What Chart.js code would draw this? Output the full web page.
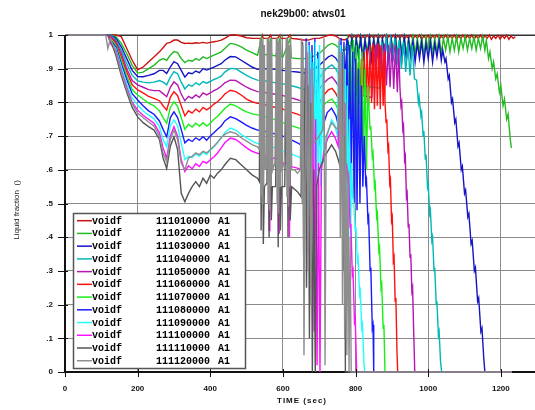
<!DOCTYPE html>
<html><head><meta charset="utf-8">
<script src="https://cdn.jsdelivr.net/npm/chart.js@4.4.1/dist/chart.umd.min.js"></script>
<style>html,body{margin:0;padding:0;background:#fff;overflow:hidden}#wrap{position:relative;width:535px;height:410px}</style>
</head><body><div id="wrap"><canvas id="c" width="535" height="410"></canvas></div>
<script>
const chartTitle = "nek29b00: atws01";
const xTitle = "TIME (sec)";
const yTitle = "Liquid fraction  ()";
const xTicks = [0, 200, 400, 600, 800, 1000, 1200];
const yTicks = [0, 0.1, 0.2, 0.3, 0.4, 0.5, 0.6, 0.7, 0.8, 0.9, 1];
const yTickLabels = ["0", ".1", ".2", ".3", ".4", ".5", ".6", ".7", ".8", ".9", "1"];
const legendVar = "voidf";
const legendIds = ["111010000","111020000","111030000","111040000","111050000","111060000","111070000","111080000","111090000","111100000","111110000","111120000"];
const legendSuffix = "A1";
const colors = ["#cc1111","#22bb22","#1414c4","#00b8b8","#b416b4","#ff1010","#18ee18","#1a1aff","#22ffff","#ff10ff","#555555","#8e8e8e"];

const tBase = [0,100,112,118,125,140,155,170,185,200,215,230,245,260,270,280,290,300,310,320,330,340,350,360,370,380,390,400,410,420,430,440,455,470,485,500,515,530];

const base01 = [1,1,1,1,1, 1,0.995,0.96,0.925,0.897, 0.905,0.92,0.935,0.95,0.962, 0.975,0.978,0.985,0.985,0.978, 0.975,0.976,0.975,0.977,0.976, 0.978,0.976,0.978,0.98,0.982, 0.985,0.99,1.0,1.0,0.997, 0.992,0.99,0.99];
const base02 = [1,1,1,1,1, 0.995,0.975,0.945,0.91,0.887, 0.89,0.9,0.91,0.925,0.93, 0.925,0.94,0.951,0.948,0.93, 0.918,0.925,0.922,0.93,0.925, 0.935,0.93,0.935,0.94,0.945, 0.95,0.96,0.975,0.972,0.965, 0.955,0.948,0.94];
const base03 = [1,1,1,1,1, 0.99,0.965,0.93,0.895,0.877, 0.876,0.88,0.885,0.895,0.895, 0.886,0.905,0.921,0.915,0.895, 0.875,0.888,0.885,0.893,0.888, 0.9,0.896,0.9,0.905,0.91, 0.915,0.925,0.936,0.935,0.925, 0.915,0.905,0.898];
const base04 = [1,1,1,1,1, 0.985,0.955,0.915,0.88,0.864, 0.86,0.858,0.86,0.865,0.86, 0.852,0.875,0.891,0.885,0.86, 0.84,0.852,0.848,0.858,0.852, 0.862,0.857,0.862,0.868,0.872, 0.878,0.89,0.901,0.9,0.89, 0.88,0.872,0.866];
const base05 = [1,1,1,1,0.998, 0.98,0.945,0.9,0.865,0.852, 0.845,0.838,0.835,0.835,0.826, 0.817,0.845,0.861,0.852,0.825, 0.805,0.818,0.812,0.822,0.815, 0.828,0.822,0.828,0.835,0.84, 0.848,0.858,0.866,0.865,0.855, 0.845,0.838,0.832];
const base06 = [1,1,1,1,0.995, 0.975,0.935,0.89,0.852,0.837, 0.828,0.818,0.812,0.805,0.79, 0.777,0.815,0.832,0.82,0.79, 0.76,0.775,0.768,0.78,0.772, 0.785,0.778,0.785,0.795,0.802, 0.812,0.825,0.836,0.832,0.822, 0.81,0.802,0.797];
const base07 = [1,1,1,1,0.99, 0.97,0.925,0.878,0.838,0.822, 0.81,0.798,0.79,0.775,0.755, 0.738,0.785,0.802,0.788,0.755, 0.72,0.735,0.727,0.738,0.73, 0.74,0.73,0.738,0.75,0.758, 0.77,0.782,0.795,0.79,0.78, 0.772,0.766,0.763];
const base08 = [1,1,1,1,0.985, 0.965,0.915,0.868,0.826,0.807, 0.79,0.775,0.765,0.745,0.72, 0.698,0.755,0.772,0.755,0.72, 0.68,0.69,0.684,0.695,0.688, 0.698,0.688,0.7,0.71,0.72, 0.73,0.745,0.757,0.752,0.742, 0.732,0.724,0.718];
const base09 = [1,1,1,1,0.98, 0.96,0.905,0.855,0.813,0.792, 0.775,0.762,0.752,0.728,0.69, 0.668,0.73,0.748,0.73,0.68, 0.63,0.64,0.636,0.648,0.64, 0.652,0.645,0.658,0.668,0.68, 0.695,0.71,0.724,0.718,0.705, 0.695,0.685,0.678];
const base10 = [1,1,1,1,0.975, 0.955,0.895,0.845,0.8,0.777, 0.762,0.75,0.738,0.71,0.665, 0.634,0.7,0.728,0.7,0.63, 0.595,0.612,0.603,0.618,0.61, 0.625,0.62,0.63,0.638,0.65, 0.665,0.68,0.694,0.69,0.678, 0.665,0.655,0.649];
const base11 = [1,1,1,1,0.985, 0.94,0.88,0.83,0.785,0.757, 0.74,0.728,0.718,0.69,0.635, 0.604,0.67,0.698,0.66,0.53, 0.505,0.53,0.55,0.565,0.55, 0.575,0.56,0.585,0.575,0.59, 0.6,0.615,0.634,0.63,0.615, 0.6,0.585,0.575];
const base12 = [1,1,1,0.96,0.99, 0.95,0.89,0.838,0.796,0.768, 0.755,0.742,0.73,0.7,0.65, 0.624,0.69,0.718,0.69,0.62, 0.6,0.635,0.64,0.65,0.645, 0.655,0.65,0.66,0.67,0.682, 0.695,0.705,0.713,0.708,0.695, 0.685,0.675,0.668];

const tail01 = [[540,0.99],[543,1.0],[546,0.99],[560,0.99],[566,1.0],[569,0.99],[585,0.99],[592,1.0],[595,0.99],[612,0.99],[620,1.0],[623,0.99],[640,0.988],[655,0.985],[670,0.985],[685,0.99],[700,0.99],[715,0.995],[725,0.999],[735,1.0],[745,0.997],[755,0.99],[765,0.986],[772,0.986],
 [778,0.99],[784,1.0],[790,0.988],[796,0.998],[802,0.99],[808,1.0],[814,0.987],[820,0.997],[826,0.99],[832,1.0],[838,0.989],[844,0.998],[850,0.99],[856,1.0],[862,0.988],[868,0.997],[874,0.99],[880,1.0],[886,0.987],[892,0.998],[898,0.99],[904,1.0],[910,0.988],[916,0.998],[922,0.99],[928,1.0],[934,0.987],[940,0.997],[946,0.99],[952,1.0],[958,0.988],[964,0.998],[970,0.99],[976,1.0],[982,0.987],[988,0.997],[994,0.99],[1000,1.0],[1006,0.988],[1012,0.998],[1018,0.99],[1024,1.0],[1030,0.987],[1036,0.997],[1042,0.99],[1048,1.0],[1054,0.988],[1060,0.998],[1066,0.99],[1072,1.0],[1078,0.987],[1084,0.997],[1090,0.99],[1096,1.0],[1102,0.988],[1108,0.998],[1114,0.99],[1120,1.0],[1126,0.987],[1132,0.997],[1138,0.99],[1144,1.0],[1150,0.988],[1156,0.998],[1162,0.99],[1168,1.0],[1174,0.987],[1180,0.997],[1186,0.99],[1192,1.0],[1198,0.988],[1204,0.998],[1210,0.99],[1216,1.0],[1222,0.987],[1228,0.997],[1234,0.99],[1240,0.995]];
const tail02 = [[541,0.99],[544,0.944],[560,0.94],[566,0.99],[569,0.94],[580,0.938],[592,0.99],[595,0.936],[600,0.935],[620,0.99],[623,0.932],[640,0.93],[660,0.93],[680,0.935],[700,0.945],[715,0.96],[725,0.97],[735,0.975],[745,0.97],[755,0.96],[765,0.955],[772,0.955],
 [778,0.99],[784,0.95],[790,0.995],[796,0.945],[802,0.99],[808,0.955],[814,0.995],[820,0.94],[826,0.99],[832,0.95],[838,0.995],[844,0.945],[850,0.99],[856,0.955],[862,0.995],[868,0.945],[874,0.99],[880,0.95],[886,0.995],[892,0.94],[898,0.99],[904,0.955],[910,0.995],[916,0.945],[922,0.99],[928,0.95],[934,0.995],[940,0.945],[946,0.99],[952,0.955],[958,0.995],[964,0.945],[970,0.99],[976,0.95],[982,0.995],[988,0.94],[994,0.99],[1000,0.955],[1006,0.995],[1012,0.945],[1018,0.99],[1024,0.95],[1030,0.995],[1036,0.945],[1042,0.99],[1048,0.955],[1054,0.995],[1060,0.95],[1066,0.99],[1072,0.955],[1078,0.995],[1084,0.95],[1090,0.99],[1096,0.96],[1102,0.995],[1108,0.955],[1114,0.99],[1120,0.96],[1126,0.995],[1132,0.955],[1138,0.99],[1144,0.96],[1150,0.995],[1156,0.955],[1160,0.985],
 [1166,0.93],[1170,0.95],[1176,0.9],[1180,0.92],[1186,0.87],[1190,0.885],[1196,0.83],[1200,0.85],[1206,0.79],[1210,0.81],[1216,0.75],[1220,0.765],[1226,0.69],[1229,0.665]];
const tail03 = [[545,0.9],[560,0.9],[580,0.898],[600,0.895],[620,0.892],[640,0.89],[660,0.887],[680,0.895],[700,0.91],[715,0.925],[725,0.935],[735,0.94],[745,0.932],[755,0.915],[765,0.905],[772,0.9],
 [778,0.985],[784,0.93],[790,0.99],[796,0.925],[802,0.985],[808,0.935],[814,0.99],[820,0.92],[826,0.985],[832,0.93],[838,0.99],[844,0.925],[850,0.985],[856,0.935],[862,0.99],[868,0.92],[874,0.985],[880,0.93],[886,0.99],[892,0.925],[898,0.985],[904,0.935],[910,0.99],[916,0.92],[922,0.985],[928,0.93],[934,0.99],[940,0.925],[946,0.985],[952,0.935],[958,0.98],[964,0.92],[970,0.975],[976,0.93],[982,0.98],[988,0.918],[994,0.975],[1000,0.93],[1006,0.98],[1012,0.92],[1018,0.975],[1024,0.935],[1030,0.98],[1036,0.925],[1040,0.955],
 [1046,0.92],[1049,0.93],[1055,0.87],[1058,0.88],[1064,0.8],[1067,0.81],[1073,0.74],[1076,0.75],[1082,0.67],[1085,0.68],[1091,0.6],[1094,0.61],[1100,0.53],[1103,0.54],[1109,0.46],[1112,0.47],[1118,0.38],[1121,0.39],[1127,0.3],[1130,0.31],[1136,0.21],[1139,0.22],[1145,0.12],[1148,0.13],[1153,0.04],[1156,0],[1230,0]];
const tail04 = [[545,0.865],[560,0.862],[580,0.858],[600,0.855],[620,0.85],[640,0.845],[660,0.837],[680,0.85],[700,0.872],[715,0.895],[725,0.905],[735,0.911],[745,0.9],[755,0.88],[765,0.865],[772,0.86],
 [790,0.855],[810,0.852],[830,0.848],[850,0.845],[866,0.842],
 [872,0.98],[878,0.93],[884,0.99],[890,0.925],[896,0.985],[902,0.92],[908,0.99],[914,0.91],[920,0.985],[926,0.9],[932,0.98],[938,0.89],[944,0.975],[950,0.88],[956,0.97],[962,0.87],[968,0.866],
 [973,0.8],[975,0.815],[980,0.76],[982,0.77],[986,0.7],[988,0.715],[992,0.63],[994,0.645],[998,0.55],[1000,0.56],[1004,0.47],[1006,0.48],[1010,0.39],[1012,0.4],[1016,0.3],[1018,0.31],[1022,0.2],[1024,0.21],[1028,0.11],[1030,0.12],[1034,0.03],[1037,0],[1230,0]];
const tail05 = [[545,0.83],[560,0.828],[580,0.824],[600,0.82],[620,0.814],[640,0.808],[660,0.8],[680,0.815],[700,0.84],[715,0.86],[725,0.87],[735,0.876],[745,0.862],[755,0.845],[765,0.832],[772,0.83],
 [790,0.826],[810,0.822],[830,0.818],[845,0.815],
 [850,0.97],[855,0.88],[860,0.975],[865,0.87],[870,0.97],[875,0.86],[880,0.975],[885,0.85],[890,0.97],[895,0.845],[900,0.975],[905,0.84],[910,0.97],[915,0.83],[919,0.96],[922,0.847],
 [925,0.79],[927,0.8],[930,0.72],[932,0.73],[935,0.63],[937,0.64],[940,0.52],[942,0.53],[945,0.43],[947,0.44],[950,0.34],[952,0.35],[955,0.24],[957,0.25],[960,0.12],[963,0],[1230,0]];
const tail06 = [[545,0.795],[560,0.79],[580,0.785],[600,0.78],[620,0.772],[640,0.765],[660,0.755],[680,0.77],[700,0.8],[715,0.825],[725,0.837],[735,0.842],[745,0.828],[755,0.805],[765,0.79],[772,0.785],
 [785,0.78],[795,0.775],
 [800,0.9],[804,0.82],[808,0.92],[812,0.8],[816,0.93],[820,0.82],[824,0.95],[828,0.8],[832,0.96],[836,0.79],[840,0.97],[844,0.8],[848,0.975],[852,0.78],[856,0.97],[860,0.79],[864,0.975],[868,0.78],[872,0.965],[876,0.79],[879,0.95],[881,0.8],
 [884,0.74],[886,0.75],[889,0.66],[891,0.67],[894,0.56],[896,0.57],[899,0.45],[901,0.46],[904,0.33],[906,0.34],[909,0.21],[911,0.22],[914,0.06],[916,0],[1230,0]];
const tail07 = [[545,0.76],[560,0.755],[580,0.748],[600,0.74],[620,0.732],[640,0.725],[660,0.718],[680,0.735],[700,0.77],[715,0.795],[725,0.805],[735,0.81],[745,0.795],[755,0.77],[765,0.755],[772,0.75],
 [778,0.97],[782,0.8],[786,0.98],[790,0.75],[794,0.985],[798,0.72],[802,0.97],[806,0.68],[810,0.96],[814,0.65],[818,0.95],[822,0.62],[826,0.9],[830,0.6],[834,0.85],[836,0.8],
 [840,0.72],[842,0.73],[846,0.64],[848,0.65],[852,0.55],[854,0.56],[858,0.46],[860,0.47],[864,0.36],[866,0.37],[870,0.25],[872,0.26],[876,0.13],[878,0.14],[881,0],[1230,0]];
const tail08 = [[545,0.715],[560,0.712],[580,0.706],[600,0.7],[620,0.69],[640,0.68],[660,0.668],
 [664,0.99],[668,0.65],[672,0.98],[676,0.6],[680,0.97],[684,0.65],[688,0.99],[692,0.62],[696,0.95],[700,0.68],[710,0.73],[722,0.77],[734,0.783],[746,0.76],[755,0.72],
 [760,0.99],[764,0.7],[768,0.98],[772,0.65],[776,0.99],[780,0.6],[784,0.97],[788,0.55],[792,0.95],[796,0.5],[800,0.93],[804,0.48],[808,0.9],[812,0.5],[816,0.85],[820,0.55],[824,0.7],
 [828,0.56],[830,0.57],[834,0.45],[836,0.46],[840,0.3],[842,0.31],[846,0.13],[848,0.14],[850,0],[1230,0]];
const tail09 = [[545,0.675],[560,0.67],[580,0.665],[600,0.655],[620,0.648],[640,0.64],[655,0.632],[662,0.63],
 [665,0.98],[668,0.5],[671,0.97],[674,0.45],[677,0.95],[680,0.5],[683,0.92],[686,0.55],[689,0.98],[692,0.48],[695,0.93],[698,0.6],[701,0.97],[704,0.55],[708,0.9],[712,0.62],[718,0.68],[726,0.72],[734,0.748],[742,0.735],[750,0.7],
 [753,0.98],[756,0.62],[759,0.97],[762,0.55],[765,0.95],[768,0.5],[771,0.9],[774,0.45],[777,0.85],[780,0.42],[783,0.75],[786,0.38],[789,0.62],[792,0.52],
 [795,0.5],[799,0.42],[801,0.43],[805,0.33],[807,0.34],[811,0.23],[813,0.24],[817,0.13],[819,0.14],[823,0.03],[825,0],[1230,0]];
const tail10 = [[545,0.645],[555,0.64],[560,0.64],[562,0.42],[564,0.63],[575,0.635],[588,0.63],[590,0.41],[592,0.62],[605,0.62],[616,0.618],[618,0.4],[620,0.61],[640,0.605],[655,0.6],[662,0.6],
 [666,0.95],[670,0.35],[674,0.9],[678,0.25],[682,0.85],[686,0.12],[690,0.75],[694,0.02],[698,0.62],[702,0],[706,0.6],[712,0.65],[722,0.69],[734,0.713],[744,0.695],[752,0.67],
 [756,0.95],[759,0.55],[762,0.9],[765,0.5],[768,0.8],[771,0.55],[775,0.62],[779,0.57],
 [781,0.58],[785,0.43],[787,0.44],[791,0.29],[793,0.3],[797,0.15],[799,0.16],[803,0],[1230,0]];
const tail11 = [[535,0.565],[538,0.98],[540,0.42],[543,0.93],[546,0.38],[549,0.55],[556,0.56],[559,0.99],[562,0.4],[565,0.95],[568,0.45],[571,0.55],[580,0.55],[584,0.98],[587,0.37],[590,0.96],[593,0.42],[596,0.55],[605,0.55],[611,0.99],[614,0.4],[617,0.94],[620,0.45],[624,0.55],[640,0.535],[650,0.52],
 [654,0.98],[657,0.35],[661,0.9],[665,0.25],[669,0.85],[673,0.1],[677,0.8],[681,0],[685,0.6],[689,0],[693,0.55],[700,0.6],[715,0.64],[734,0.674],[745,0.655],[755,0.62],[760,0.6],
 [763,0.95],[766,0.3],[769,0.7],[772,0],[1230,0]];
const tail12 = [[535,0.66],[537,0.99],[539,0.52],[541,0.98],[543,0.5],[545,0.99],[547,0.55],[549,0.97],[551,0.6],[555,0.64],[557,0.99],[559,0.5],[561,0.99],[563,0.48],[565,0.98],[567,0.55],[569,0.99],[572,0.6],[578,0.62],[582,0.99],[584,0.5],[586,0.99],[588,0.47],[590,0.98],[592,0.55],[594,0.99],[597,0.6],[604,0.62],[609,0.99],[611,0.52],[613,0.99],[615,0.49],[617,0.97],[619,0.55],[621,0.99],[624,0.6],[632,0.6],[640,0.59],[648,0.6],
 [651,0.99],[653,0.5],[655,0.97],[658,0.05],[661,0.6],[665,0.98],[669,0.3],[673,0.95],[677,0.2],[681,0.9],[686,0.68],[700,0.7],[710,0.72],[713,0.99],[716,0.02],[719,0.7],[734,0.74],[745,0.725],[752,0.72],
 [755,0.99],[758,0.4],[761,0.95],[764,0.2],[767,0.9],[770,0.1],[773,0.8],[776,0.05],[779,0.6],[782,0],[785,0.4],[788,0],[1230,0]];

const bases = [base01,base02,base03,base04,base05,base06,base07,base08,base09,base10,base11,base12];
const tails = [tail01,tail02,tail03,tail04,tail05,tail06,tail07,tail08,tail09,tail10,tail11,tail12];

const datasets = bases.map((b, i) => ({
  label: legendIds[i],
  data: tBase.map((t, k) => ({x: t, y: b[k]})).concat(tails[i].map(p => ({x: p[0], y: p[1]}))),
  borderColor: colors[i],
  borderWidth: 1.4,
  pointRadius: 0,
  tension: 0,
  fill: false,
  order: 12 - i,
  clip: {left: 0, top: 2, right: 0, bottom: 2}
}));

const deco = {
  id: 'deco',
  beforeDatasetsDraw(chart) {
    const {ctx, chartArea: a} = chart;
    ctx.save();
    ctx.strokeStyle = '#333'; ctx.lineWidth = 1.5;
    ctx.beginPath(); ctx.moveTo(a.left, a.top + 0.25); ctx.lineTo(535, a.top + 0.25); ctx.stroke();
    ctx.strokeStyle = '#111'; ctx.lineWidth = 2;
    ctx.beginPath(); ctx.moveTo(a.left, a.top); ctx.lineTo(a.left, a.bottom); ctx.lineTo(535, a.bottom); ctx.stroke();
    ctx.restore();
  },
  afterDatasetsDraw(chart) {
    const {ctx, chartArea: a, scales: {x, y}} = chart;
    ctx.save();
    ctx.strokeStyle = '#111'; ctx.lineWidth = 1;
    yTicks.forEach(v => {
      const py = Math.round(y.getPixelForValue(v)) + 0.5;
      ctx.beginPath(); ctx.moveTo(a.left - 7, py); ctx.lineTo(a.left + 3, py); ctx.stroke();
    });
    xTicks.forEach(v => {
      const px = Math.round(x.getPixelForValue(v)) + 0.5;
      ctx.beginPath(); ctx.moveTo(px, a.bottom - 3); ctx.lineTo(px, a.bottom + 5); ctx.stroke();
    });
    ctx.fillStyle = '#111';
    ctx.font = 'bold 8px "Liberation Sans", Arial, sans-serif';
    ctx.textAlign = 'right'; ctx.textBaseline = 'middle';
    yTicks.forEach((v, i) => ctx.fillText(yTickLabels[i], a.left - 12, y.getPixelForValue(v)));
    ctx.textAlign = 'center';
    xTicks.forEach(v => ctx.fillText(String(v), x.getPixelForValue(v), 389));
    ctx.font = 'bold 8px "Liberation Sans", Arial, sans-serif';
    ctx.letterSpacing = '1px';
    ctx.fillText(xTitle, 302, 401);
    ctx.letterSpacing = '0px';
    ctx.save();
    ctx.translate(17, 210); ctx.rotate(-Math.PI / 2);
    ctx.font = '8px "Liberation Sans", Arial, sans-serif';
    ctx.fillStyle = '#222';
    ctx.fillText(yTitle, 0, 0);
    ctx.restore();
    ctx.font = 'bold 10px "Liberation Sans", Arial, sans-serif';
    ctx.fillStyle = '#111';
    ctx.fillText(chartTitle, 303, 14);
    const lx = 73, ly = 213, lw = 172, lh = 155;
    ctx.fillStyle = '#fff';
    ctx.fillRect(lx, ly, lw, lh);
    ctx.strokeStyle = '#555'; ctx.lineWidth = 1.5;
    ctx.strokeRect(lx + 0.5, ly + 0.5, lw, lh);
    ctx.font = 'bold 10px "Liberation Mono", "Courier New", monospace';
    ctx.textAlign = 'left'; ctx.textBaseline = 'middle';
    legendIds.forEach((id, i) => {
      const ry = 220.7 + i * 12.73;
      ctx.strokeStyle = colors[i]; ctx.lineWidth = 1.5;
      ctx.beginPath(); ctx.moveTo(77, ry); ctx.lineTo(92, ry); ctx.stroke();
      ctx.fillStyle = '#000';
      ctx.fillText(legendVar, 92, ry + 0.5);
      ctx.fillText(id, 156, ry + 0.5);
      ctx.fillText(legendSuffix, 218, ry + 0.5);
    });
    ctx.restore();
  }
};

new Chart(document.getElementById('c'), {
  type: 'line',
  data: {datasets},
  options: {
    responsive: false,
    animation: false,
    devicePixelRatio: 1,
    layout: {padding: {top: 35, left: 0, right: 0, bottom: 0}, autoPadding: false},
    plugins: {legend: {display: false}, title: {display: false}, tooltip: {enabled: false}},
    scales: {
      x: {
        type: 'linear', min: 0, max: 1294,
        afterBuildTicks: s => { s.ticks = xTicks.map(v => ({value: v})); },
        afterFit: s => { s.height = 38; },
        ticks: {display: false},
        grid: {color: '#8a8a8a', lineWidth: 1, drawTicks: false},
        border: {display: false}
      },
      y: {
        type: 'linear', min: 0, max: 1,
        afterBuildTicks: s => { s.ticks = yTicks.map(v => ({value: v})); },
        afterFit: s => { s.width = 65; },
        ticks: {display: false},
        grid: {color: '#8a8a8a', lineWidth: 1, drawTicks: false},
        border: {display: false}
      }
    }
  },
  plugins: [deco]
});
</script>
</body></html>
